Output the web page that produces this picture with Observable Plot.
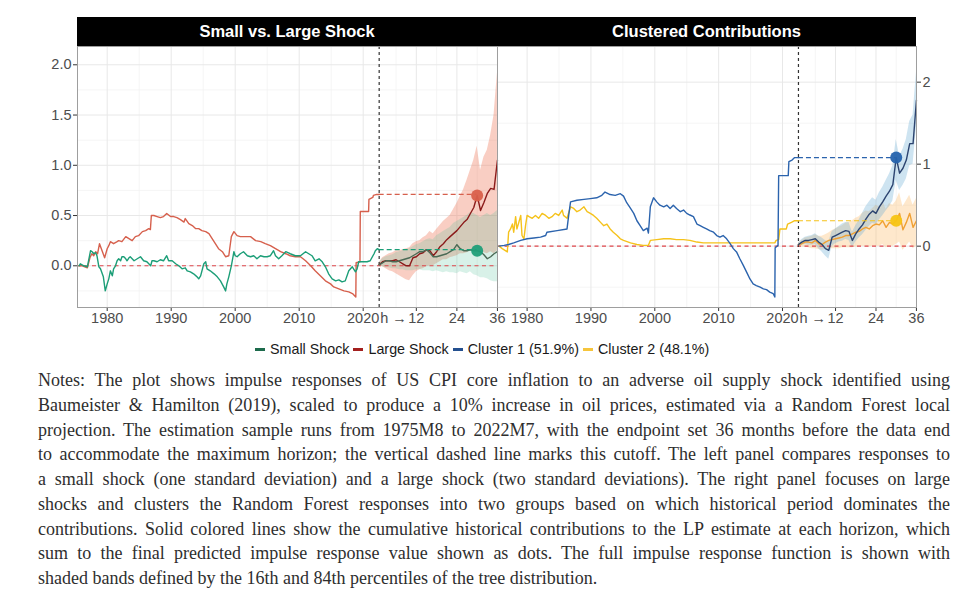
<!DOCTYPE html>
<html>
<head>
<meta charset="utf-8">
<script src="https://cdn.jsdelivr.net/npm/d3@7"></script>
<script src="https://cdn.jsdelivr.net/npm/@observablehq/plot@0.6"></script>
<style>
  html, body { margin: 0; padding: 0; background: #fff; }
  #page { position: relative; width: 970px; height: 606px; overflow: hidden; background: #fff; }
  .strip { position: absolute; top: 17px; height: 29px; background: #000; color: #fff;
           font: bold 16.5px "Liberation Sans", Arial, sans-serif; display: flex; align-items: center; justify-content: center; }
  .panel { position: absolute; top: 46px; }
  #legend { position: absolute; left: 255px; top: 341px; font: 14.3px "Liberation Sans", Arial, sans-serif; color: #1a1a1a;
            display: flex; align-items: center; white-space: nowrap; }
  #legend .item { display: flex; align-items: center; margin-right: 4px; }
  #legend .sw { display: inline-block; width: 10px; height: 3px; margin-right: 5px; }
  #notes { position: absolute; left: 38px; top: 368px; width: 912px; font: 18px "Liberation Serif", "Times New Roman", serif; color: #2e2e2e; }
  #notes div { line-height: 24.75px; height: 24.75px; white-space: nowrap; text-align: justify; text-align-last: justify; }
  #notes div.last { text-align-last: left; }
</style>
</head>
<body>
<div id="page">
  <div class="strip" style="left:77px;width:420px;">Small vs. Large Shock</div>
  <div class="strip" style="left:497px;width:419px;">Clustered Contributions</div>
  <div class="panel" id="left" style="left:0px;"></div>
  <div class="panel" id="right" style="left:482px;"></div>
  <div id="legend"></div>
  <div id="notes"></div>
</div>
<script>
// ---------- axis layout values ----------
const H0 = 2022.5;          // end of estimation sample (2022M7)
const K = 0.528;            // horizon step in axis units
const hx = h => H0 + (h - 1) * K;
const XMIN = 1975.36, XMAX = 2040.99;

const yearTicks = [1980, 1990, 2000, 2010, 2020];
const yearMinor = [1985, 1995, 2005, 2015];
const horizonTicks = [12, 24, 36];
const horizonMinor = [6, 18, 30];
const horizonTickLabels = ["12", "24", "36"];
const hLabel = ["h \u2192"];

// ---------- horizons ----------
const horizons = [1,2,3,4,5,6,7,8,9,10,11,12,13,14,15,16,17,18,19,20,21,22,23,24,25,26,27,28,29,30,31,32,33,34,35,36];
const dotHorizon = 30;

// ---------- left panel: small vs. large shock ----------
const largeHist = [[1975.6,0.00],[1976.1,0.00],[1976.9,-0.02],[1977.3,0.08],[1977.6,0.12],[1977.9,0.10],[1978.2,0.14],[1978.5,0.12],[1978.8,0.22],[1979.2,0.15],[1979.6,0.08],[1980.0,0.17],[1980.25,0.20],[1980.5,0.24],[1981.0,0.22],[1981.55,0.24],[1981.8,0.25],[1982.3,0.24],[1982.9,0.29],[1983.4,0.27],[1983.9,0.25],[1984.4,0.29],[1984.9,0.30],[1985.5,0.34],[1986.0,0.35],[1986.5,0.37],[1986.75,0.36],[1986.9,0.50],[1987.3,0.50],[1987.8,0.49],[1988.3,0.48],[1988.8,0.49],[1989.3,0.52],[1989.9,0.49],[1990.4,0.49],[1990.9,0.48],[1991.45,0.46],[1992.0,0.435],[1992.2,0.47],[1992.75,0.42],[1993.3,0.40],[1993.8,0.37],[1994.3,0.37],[1994.8,0.35],[1995.4,0.34],[1995.9,0.32],[1996.4,0.27],[1996.9,0.22],[1997.4,0.17],[1998.0,0.14],[1998.5,0.09],[1999.0,0.10],[1999.4,0.29],[1999.8,0.34],[2000.3,0.30],[2000.8,0.29],[2001.6,0.29],[2002.4,0.29],[2003.2,0.25],[2004.0,0.24],[2004.7,0.22],[2005.5,0.20],[2006.3,0.17],[2007.1,0.14],[2007.9,0.12],[2008.6,0.10],[2009.4,0.09],[2010.2,0.09],[2011.0,0.05],[2011.8,0.00],[2012.5,-0.05],[2013.3,-0.10],[2014.1,-0.15],[2014.9,-0.18],[2015.4,-0.21],[2016.2,-0.23],[2017.0,-0.25],[2017.75,-0.26],[2018.4,-0.28],[2018.85,-0.31],[2018.9,0.03],[2019.5,0.04],[2019.55,0.54],[2020.85,0.54],[2020.9,0.66],[2021.5,0.68],[2021.6,0.70],[2022.1,0.71],[2022.5,0.71]];
const smallHist = [[1975.6,0.00],[1975.8,0.02],[1976.35,0.00],[1976.9,-0.01],[1977.4,0.15],[1977.65,0.14],[1977.9,0.12],[1978.2,0.13],[1978.4,0.10],[1978.7,-0.01],[1978.95,-0.03],[1979.4,-0.11],[1979.7,-0.25],[1980.0,-0.18],[1980.25,-0.13],[1980.5,-0.05],[1980.8,-0.10],[1981.0,-0.03],[1981.3,0.00],[1981.55,0.05],[1981.8,0.07],[1982.1,0.05],[1982.3,0.09],[1982.6,0.09],[1982.9,0.07],[1983.1,0.05],[1983.4,0.08],[1983.6,0.09],[1983.9,0.07],[1984.2,0.05],[1984.7,0.07],[1985.2,0.09],[1985.7,0.05],[1986.2,0.04],[1986.8,0.00],[1987.0,0.05],[1987.3,0.05],[1987.8,0.04],[1988.3,0.06],[1988.8,0.05],[1989.3,0.10],[1989.6,0.05],[1990.15,0.05],[1990.7,0.02],[1991.2,0.00],[1991.7,-0.03],[1992.2,-0.02],[1992.5,-0.05],[1993.0,-0.06],[1993.5,-0.08],[1994.05,-0.11],[1994.3,-0.13],[1994.6,-0.10],[1995.1,0.02],[1995.4,0.04],[1995.6,-0.03],[1996.1,-0.05],[1996.7,-0.08],[1997.2,-0.11],[1997.7,-0.15],[1998.2,-0.21],[1998.5,-0.25],[1998.7,-0.18],[1999.0,-0.11],[1999.4,0.00],[1999.8,0.14],[2000.0,0.10],[2000.3,0.09],[2000.8,0.12],[2001.3,0.14],[2001.9,0.10],[2002.4,0.09],[2002.9,0.10],[2003.4,0.07],[2003.95,0.10],[2004.5,0.09],[2005.0,0.09],[2005.5,0.10],[2006.0,0.15],[2006.3,0.10],[2006.8,0.07],[2007.3,0.10],[2007.9,0.14],[2008.6,0.12],[2009.4,0.10],[2010.2,0.10],[2011.0,0.14],[2011.5,0.12],[2012.0,0.10],[2012.5,0.05],[2013.1,0.07],[2013.6,0.04],[2014.1,-0.01],[2014.6,-0.08],[2015.15,-0.13],[2015.7,-0.15],[2016.2,-0.14],[2016.7,-0.16],[2017.2,-0.15],[2017.75,-0.05],[2018.3,-0.01],[2018.5,-0.03],[2018.8,-0.06],[2019.05,-0.03],[2019.3,0.04],[2019.8,0.04],[2020.6,0.04],[2021.1,0.05],[2021.7,0.12],[2021.9,0.15],[2022.2,0.17],[2022.5,0.16]];

const largeIRF = [0.01,0.04,0.05,0.05,0.05,0.06,0.04,0.02,0.00,0.00,0.08,0.09,0.12,0.13,0.16,0.15,0.10,0.14,0.19,0.22,0.26,0.29,0.32,0.35,0.39,0.43,0.46,0.52,0.58,0.70,0.55,0.63,0.72,0.77,0.76,1.05];
const largeLo  = [0.00,-0.01,-0.03,-0.05,-0.06,-0.08,-0.10,-0.12,-0.14,-0.15,-0.10,-0.06,-0.04,-0.03,-0.01,0.00,0.00,0.02,0.04,0.06,0.06,0.08,0.09,0.10,0.12,0.12,0.13,0.15,0.16,0.18,0.14,0.13,0.12,0.14,0.12,0.15];
const largeHi  = [0.03,0.08,0.10,0.12,0.13,0.15,0.15,0.16,0.17,0.18,0.22,0.24,0.25,0.28,0.30,0.34,0.32,0.36,0.40,0.44,0.47,0.50,0.56,0.62,0.69,0.76,0.85,0.95,1.05,1.19,0.95,1.08,1.15,1.30,1.50,1.92];
const smallIRF = [0.01,0.03,0.05,0.05,0.04,0.04,0.05,0.06,0.07,0.08,0.10,0.12,0.14,0.14,0.16,0.13,0.09,0.09,0.10,0.11,0.12,0.14,0.16,0.21,0.17,0.15,0.15,0.16,0.15,0.15,0.14,0.11,0.07,0.09,0.12,0.14];
const smallLo  = [0.00,-0.01,-0.02,-0.02,-0.03,-0.03,-0.04,-0.04,-0.05,-0.05,-0.05,-0.04,-0.04,-0.05,-0.05,-0.05,-0.06,-0.05,-0.06,-0.07,-0.06,-0.07,-0.07,-0.08,-0.06,-0.07,-0.08,-0.06,-0.09,-0.10,-0.12,-0.12,-0.13,-0.15,-0.16,-0.16];
const smallHi  = [0.03,0.07,0.09,0.10,0.11,0.13,0.14,0.15,0.16,0.17,0.19,0.21,0.22,0.24,0.26,0.27,0.26,0.30,0.32,0.34,0.36,0.38,0.42,0.44,0.46,0.48,0.50,0.53,0.52,0.50,0.48,0.50,0.52,0.50,0.52,0.55];

// ---------- right panel: clustered contributions ----------
const c1Hist = [[1975.6,0.00],[1976.4,0.01],[1977.1,0.02],[1977.9,0.04],[1979.0,0.07],[1980.0,0.09],[1981.05,0.10],[1982.1,0.11],[1982.9,0.13],[1983.1,0.17],[1984.7,0.19],[1986.25,0.21],[1986.5,0.37],[1986.8,0.54],[1987.8,0.56],[1988.9,0.57],[1989.9,0.58],[1990.9,0.59],[1991.7,0.62],[1992.2,0.66],[1993.0,0.63],[1993.8,0.62],[1994.6,0.64],[1995.1,0.61],[1995.6,0.53],[1996.2,0.46],[1996.7,0.40],[1997.2,0.31],[1997.7,0.25],[1998.2,0.19],[1998.8,0.22],[1999.0,0.16],[1999.3,0.48],[1999.8,0.59],[2000.3,0.54],[2000.8,0.50],[2001.4,0.48],[2001.9,0.50],[2002.4,0.46],[2002.9,0.50],[2003.4,0.46],[2004.0,0.42],[2004.5,0.44],[2005.0,0.40],[2005.5,0.38],[2006.05,0.36],[2006.6,0.27],[2007.1,0.25],[2007.6,0.23],[2008.1,0.21],[2008.6,0.19],[2009.2,0.17],[2009.7,0.13],[2010.2,0.11],[2010.7,0.13],[2011.25,0.09],[2011.8,0.03],[2012.3,-0.03],[2012.8,-0.07],[2013.3,-0.15],[2013.9,-0.24],[2014.4,-0.32],[2014.9,-0.40],[2015.4,-0.46],[2015.9,-0.48],[2016.5,-0.50],[2017.0,-0.52],[2017.5,-0.53],[2018.0,-0.56],[2018.55,-0.58],[2018.8,-0.62],[2018.85,-0.02],[2019.3,0.01],[2019.4,0.86],[2020.9,0.86],[2021.0,1.03],[2021.5,1.05],[2021.9,1.08],[2022.5,1.08]];
const c2Hist = [[1975.6,0.00],[1976.1,-0.03],[1976.9,-0.07],[1977.1,0.17],[1977.4,0.21],[1977.7,0.27],[1977.9,0.17],[1978.2,0.36],[1978.4,0.21],[1978.7,0.29],[1979.0,0.375],[1979.2,0.13],[1979.5,0.09],[1979.75,0.25],[1980.0,0.375],[1980.3,0.36],[1980.8,0.34],[1981.3,0.375],[1981.8,0.34],[1982.35,0.40],[1982.9,0.375],[1983.4,0.34],[1983.9,0.36],[1984.4,0.40],[1984.95,0.375],[1985.5,0.44],[1985.7,0.375],[1986.25,0.34],[1986.8,0.48],[1987.3,0.46],[1987.8,0.42],[1988.3,0.44],[1988.9,0.48],[1989.4,0.42],[1989.9,0.40],[1990.4,0.375],[1990.9,0.34],[1991.5,0.29],[1992.0,0.25],[1992.5,0.27],[1993.0,0.21],[1993.5,0.17],[1994.1,0.13],[1994.6,0.09],[1995.1,0.07],[1996.2,0.04],[1997.2,0.02],[1998.2,0.01],[1999.0,0.01],[1999.3,0.07],[2000.3,0.08],[2001.4,0.09],[2002.4,0.09],[2003.4,0.08],[2004.5,0.08],[2005.5,0.07],[2006.6,0.05],[2007.6,0.04],[2009.7,0.04],[2011.8,0.04],[2013.9,0.04],[2016.0,0.04],[2018.8,0.04],[2019.0,0.07],[2019.4,0.08],[2019.6,0.21],[2020.6,0.21],[2020.8,0.27],[2021.4,0.29],[2021.9,0.31],[2022.5,0.31]];

const c1IRF = [0.02,0.05,0.07,0.07,0.08,0.09,0.05,0.02,-0.03,-0.05,0.11,0.13,0.15,0.17,0.19,0.18,0.07,0.15,0.21,0.26,0.33,0.39,0.43,0.40,0.48,0.54,0.61,0.67,0.75,1.08,0.89,0.95,1.05,1.25,1.25,1.78];
const c1Lo  = [0.00,0.01,0.02,0.01,0.01,0.02,-0.03,-0.07,-0.12,-0.16,0.00,0.03,0.05,0.06,0.08,0.07,-0.02,0.05,0.10,0.14,0.19,0.24,0.28,0.26,0.32,0.37,0.43,0.48,0.55,0.80,0.68,0.74,0.82,0.98,1.00,1.45];
const c1Hi  = [0.04,0.08,0.11,0.12,0.13,0.15,0.12,0.10,0.07,0.05,0.18,0.21,0.24,0.27,0.29,0.29,0.17,0.25,0.32,0.40,0.48,0.54,0.59,0.56,0.65,0.72,0.80,0.88,0.98,1.30,1.10,1.18,1.30,1.52,1.60,2.12];
const c2IRF = [0.02,0.03,0.05,0.05,0.04,0.07,0.03,0.02,0.05,0.07,0.08,0.09,0.10,0.11,0.13,0.13,0.15,0.17,0.18,0.21,0.23,0.21,0.25,0.27,0.26,0.31,0.23,0.29,0.27,0.31,0.40,0.20,0.29,0.40,0.23,0.31];
const c2Lo  = [0.00,-0.01,-0.01,-0.02,-0.03,-0.03,-0.04,-0.05,-0.04,-0.04,-0.03,-0.03,-0.03,-0.02,-0.02,-0.02,-0.02,-0.01,-0.01,0.00,0.00,-0.01,0.00,0.00,0.00,0.02,-0.02,0.00,0.00,0.02,0.05,-0.05,0.00,0.05,-0.03,0.00];
const c2Hi  = [0.04,0.07,0.10,0.11,0.12,0.14,0.12,0.12,0.14,0.16,0.19,0.21,0.23,0.25,0.28,0.29,0.31,0.34,0.36,0.40,0.43,0.42,0.46,0.50,0.48,0.55,0.45,0.52,0.50,0.55,0.65,0.48,0.55,0.62,0.50,0.58];

// ---------- legend ----------
const legendLabels = ["Small Shock", "Large Shock", "Cluster 1 (51.9%)", "Cluster 2 (48.1%)"];
const legendColors = ["#1d6b4c", "#a3201f", "#24508f", "#f6c53c"];

// ---------- notes ----------
const notesLines = [
  "Notes: The plot shows impulse responses of US CPI core inflation to an adverse oil supply shock identified using",
  "Baumeister & Hamilton (2019), scaled to produce a 10% increase in oil prices, estimated via a Random Forest local",
  "projection. The estimation sample runs from 1975M8 to 2022M7, with the endpoint set 36 months before the data end",
  "to accommodate the maximum horizon; the vertical dashed line marks this cutoff. The left panel compares responses to",
  "a small shock (one standard deviation) and a large shock (two standard deviations). The right panel focuses on large",
  "shocks and clusters the Random Forest responses into two groups based on which historical period dominates the",
  "contributions. Solid colored lines show the cumulative historical contributions to the LP estimate at each horizon, which",
  "sum to the final predicted impulse response value shown as dots. The full impulse response function is shown with",
  "shaded bands defined by the 16th and 84th percentiles of the tree distribution."
];

// ---------- build ----------
const xTickVals = [...yearTicks, ...horizonTicks.map(hx)];
const xTickText = [...yearTicks.map(String), ...horizonTickLabels];
const xLabelMap = new Map(xTickVals.map((v, i) => [v, xTickText[i]]));
const xMajor = xTickVals;
const xMinor = [...yearMinor, ...horizonMinor.map(hx)];
const band = (lo, hi) => horizons.map((h, i) => ({x: hx(h), lo: lo[i], hi: hi[i]}));
const irf = vals => horizons.map((h, i) => ({x: hx(h), v: vals[i]}));
const last = arr => arr[arr.length - 1][1];
const atDot = vals => vals[horizons.indexOf(dotHorizon)];

const AXIS_FONT = 14.5;
const TXT = "#4d4d4d";

function panel(opts) {
  const {width, marginLeft, marginRight, yDomain, yMajor, yMinor, yFormat, yAnchor, series} = opts;
  const marks = [
    Plot.ruleY(yMinor, {stroke: "#f2f2f2", strokeWidth: 0.8}),
    Plot.ruleX(xMinor, {stroke: "#f2f2f2", strokeWidth: 0.8}),
    Plot.ruleY(yMajor, {stroke: "#e8e8e8", strokeWidth: 1}),
    Plot.ruleX(xMajor, {stroke: "#e8e8e8", strokeWidth: 1})
  ];
  for (const s of series) {
    marks.push(Plot.areaY(band(s.lo, s.hi), {x: "x", y1: "lo", y2: "hi", fill: s.bandFill, fillOpacity: s.bandOpacity}));
  }
  marks.push(Plot.ruleY([0], {stroke: "#e0474c", strokeWidth: 1.1, strokeDasharray: "4,3.5"}));
  marks.push(Plot.ruleX([H0], {stroke: "#333", strokeWidth: 1.2, strokeDasharray: "3,3"}));
  for (const s of series) {
    marks.push(Plot.line(s.hist, {x: d => d[0], y: d => d[1], stroke: s.histColor, strokeWidth: 1.4}));
  }
  for (const s of series) {
    marks.push(Plot.line(irf(s.irf), {x: "x", y: "v", stroke: s.irfColor, strokeWidth: 1.4}));
  }
  for (const s of series) {
    marks.push(Plot.ruleY([last(s.hist)], {y: d => d, x1: () => H0, x2: () => hx(dotHorizon), stroke: s.histColor, strokeWidth: 1.2, strokeDasharray: "5,3"}));
  }
  for (const s of series) {
    marks.push(Plot.dot([atDot(s.irf)], {x: () => hx(dotHorizon), y: d => d, r: 6, fill: s.dotColor, fillOpacity: 0.95, stroke: "none"}));
  }
  marks.push(Plot.axisX({ticks: xTickVals, tickFormat: d => xLabelMap.get(d) ?? "", tickSize: 4, tickPadding: 1, fontSize: AXIS_FONT, fill: TXT, stroke: "#333", label: null}));
  marks.push(Plot.text(hLabel, {x: () => H0, text: d => d, frameAnchor: "bottom", textAnchor: "start", lineAnchor: "top", dx: 1, dy: 5, fontSize: AXIS_FONT, fill: TXT}));
  marks.push(Plot.axisY({anchor: yAnchor, ticks: yMajor, tickFormat: yFormat, tickSize: 4, tickPadding: 2, fontSize: AXIS_FONT, fill: TXT, stroke: "#333", label: null}));
  marks.push(Plot.frame({stroke: "#9e9e9e", strokeWidth: 1}));
  return Plot.plot({
    width, height: 287, marginTop: 0, marginBottom: 26, marginLeft, marginRight,
    x: {domain: [XMIN, XMAX]},
    y: {domain: yDomain},
    style: {background: "transparent", overflow: "visible", fontSize: AXIS_FONT + "px", fontFamily: "'Liberation Sans', Arial, sans-serif"},
    marks
  });
}

const leftSeries = [
  {hist: largeHist, irf: largeIRF, lo: largeLo, hi: largeHi, histColor: "#d6604d", irfColor: "#8b1a1a", bandFill: "#ec6f4e", bandOpacity: 0.34, dotColor: "#d9604b"},
  {hist: smallHist, irf: smallIRF, lo: smallLo, hi: smallHi, histColor: "#1b9e77", irfColor: "#4b6a55", bandFill: "#4cbf98", bandOpacity: 0.22, dotColor: "#1f9e78"}
];
const rightSeries = [
  {hist: c2Hist, irf: c2IRF, lo: c2Lo, hi: c2Hi, histColor: "#f5c21b", irfColor: "#f0a033", bandFill: "#fdb863", bandOpacity: 0.33, dotColor: "#f7c414"},
  {hist: c1Hist, irf: c1IRF, lo: c1Lo, hi: c1Hi, histColor: "#2b63ad", irfColor: "#2c4470", bandFill: "#6baed6", bandOpacity: 0.33, dotColor: "#2563ad"}
];

document.getElementById("left").append(panel({
  width: 512, marginLeft: 77, marginRight: 15,
  yDomain: [-0.415, 2.182], yMajor: [0, 0.5, 1, 1.5, 2], yMinor: [-0.25, 0.25, 0.75, 1.25, 1.75],
  yFormat: d3.format(".1f"), yAnchor: "left", series: leftSeries
}));
document.getElementById("right").append(panel({
  width: 488, marginLeft: 15, marginRight: 54,
  yDomain: [-0.748, 2.435], yMajor: [0, 1, 2], yMinor: [-0.5, 0.5, 1.5],
  yFormat: d => String(d), yAnchor: "right", series: rightSeries
}));

const legend = document.getElementById("legend");
legendLabels.forEach((lab, i) => {
  const it = document.createElement("span");
  it.className = "item";
  const sw = document.createElement("span");
  sw.className = "sw";
  sw.style.background = legendColors[i];
  it.append(sw, document.createTextNode(lab));
  legend.append(it);
});

const notes = document.getElementById("notes");
const lineDivs = notesLines.map((line, i) => {
  const d = document.createElement("div");
  d.textContent = line;
  if (i === notesLines.length - 1) d.className = "last";
  notes.append(d);
  return d;
});
// shrink the notes font only if a line would not fit its 912px box
(function fitNotes() {
  const probe = document.createElement("span");
  probe.style.whiteSpace = "nowrap";
  probe.style.font = getComputedStyle(notes).font;
  probe.style.visibility = "hidden";
  probe.style.position = "absolute";
  document.body.append(probe);
  let size = 18;
  for (let k = 0; k < 20; k++) {
    probe.style.fontSize = size + "px";
    let maxW = 0;
    for (const t of notesLines) { probe.textContent = t; maxW = Math.max(maxW, probe.getBoundingClientRect().width); }
    if (maxW <= 908) break;
    size -= 0.25;
  }
  notes.style.fontSize = size + "px";
  probe.remove();
})();
</script>
</body>
</html>
